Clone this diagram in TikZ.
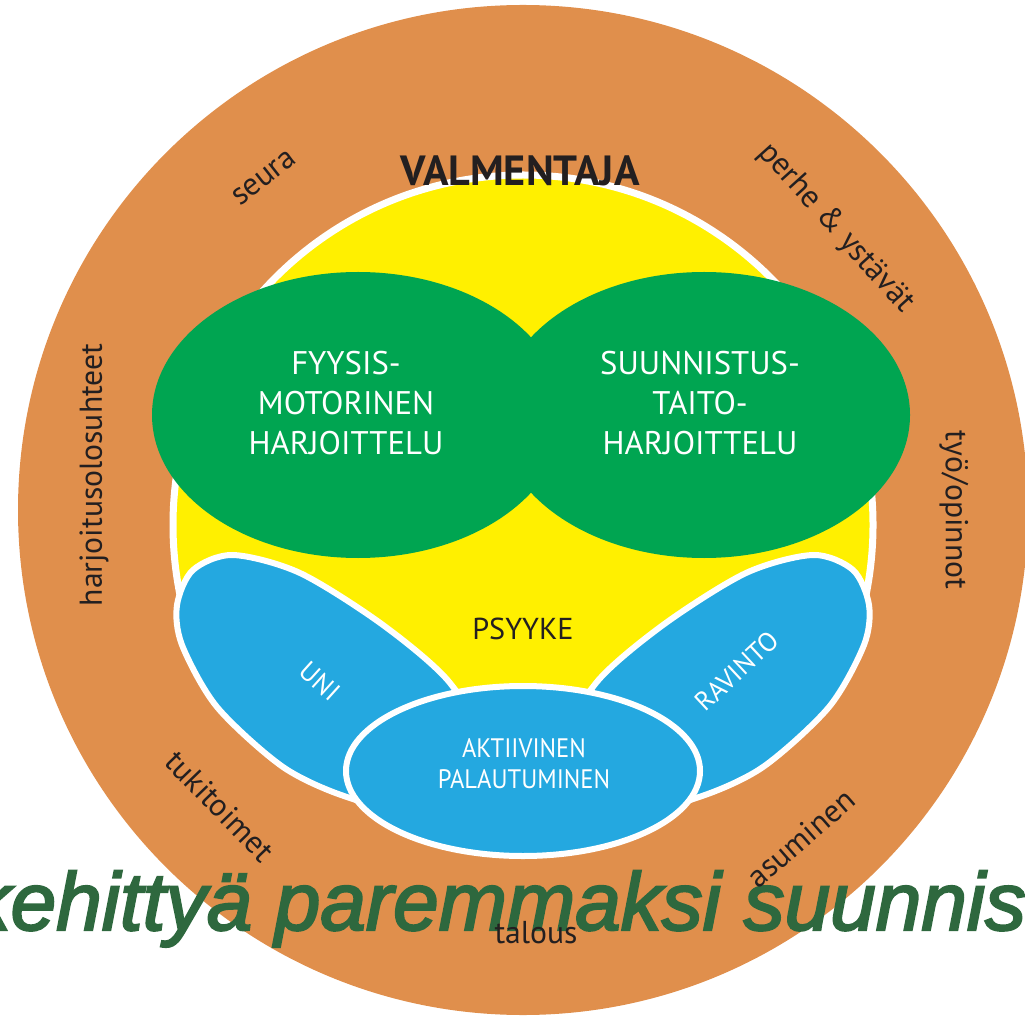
\documentclass[tikz,border=0pt]{standalone}
\usepackage{fontspec}
\usepackage{graphicx}
\setmainfont{PT Sans}
\newfontfamily\mottofont[FakeBold=2.6]{Liberation Sans Italic}
\usetikzlibrary{shapes,positioning}

\definecolor{ringorange}{RGB}{224,143,76}
\definecolor{psyyellow}{RGB}{255,240,0}
\definecolor{traingreen}{RGB}{0,165,81}
\definecolor{recblue}{RGB}{36,168,224}
\definecolor{labeltext}{RGB}{35,31,32}
\definecolor{mottogreen}{RGB}{46,104,62}

\newcommand\squeeze[2]{\scalebox{#1}[1]{\begin{tabular}{@{}c@{}}#2\end{tabular}}}

\tikzset{
  ring label/.style={text=labeltext,font=\fontsize{9}{10}\selectfont,inner sep=0pt},
  inner label/.style={text=white,align=center,font=\fontsize{9.3}{11.4}\selectfont,inner sep=0pt},
  small label/.style={text=white,align=center,font=\fontsize{7.6}{8.6}\selectfont,inner sep=0pt},
  lobe/.style={fill=recblue,draw=white,line width=0.06cm},
}

\begin{document}
\begin{tikzpicture}[x=0.01cm,y=-0.01cm]
\useasboundingbox (0,0) rectangle (1025,1016);
\clip (0,0) rectangle (1025,1016);
% outer ring and psyyke
\fill[ringorange] (523,510) circle [radius=505];
\begin{scope}
  \clip (0,0) rectangle (1025,720);
  \draw[fill=psyyellow,draw=white,line width=0.07cm] (523,525) circle [radius=350];
\end{scope}
% training
\fill[traingreen] (358,415) ellipse [x radius=206,y radius=143];
\fill[traingreen] (704,415) ellipse [x radius=206,y radius=143];
% recovery
\foreach \s in {1,-1}
  \draw[lobe,shift={(523-523*\s,0)},xscale=\s] plot[smooth cycle] coordinates
    {(347,797) (283,767) (217,707) (182,645) (177,605) (193,570) (233,555)
     (300,573) (383,625) (450,683) (478,745) (410,808)};
\draw[lobe] (523,771) ellipse [x radius=177,y radius=85];

\node[inner label] (fyysis) at (346,403) {FYYSIS-\\MOTORINEN\\HARJOITTELU};
\node[inner label] (taito) at (700,403) {SUUNNISTUS-\\TAITO-\\HARJOITTELU};
\node[text=labeltext,font=\fontsize{8.6}{10}\selectfont,inner sep=0pt] (psyyke) at (523,629) {PSYYKE};
\node[small label,rotate=-42] (uni) at (320,681) {UNI};
\node[small label,rotate=43] (ravinto) at (737,671) {RAVINTO};
\node[small label] (aktiivinen) at (524,767) {\squeeze{0.92}{AKTIIVINEN\\PALAUTUMINEN}};
\node[text=labeltext,font=\bfseries\fontsize{12}{13}\selectfont,inner sep=0pt] (valmentaja) at (520,171) {VALMENTAJA};

% stray caption
\node[text=mottogreen,anchor=base west,inner sep=0pt,font=\mottofont\fontsize{23.3}{26}\selectfont] (motto) at (-31,930) {kehittyä paremmaksi suunnis};

% surroundings
\node[ring label,rotate=38] (seura) at (264,178) {seura};
\node[ring label,rotate=-48] (perhe) at (836,228) {perhe \& ystävät};
\node[ring label,rotate=-90] (tyo) at (954,510) {työ/opinnot};
\node[ring label,rotate=41] (asuminen) at (801,838) {asuminen};
\node[ring label] (talous) at (536,933) {talous};
\node[ring label,rotate=-46] (tukitoimet) at (220,806) {tukitoimet};
\node[ring label,rotate=90] (olosuhteet) at (94,475) {harjoitusolosuhteet};
\end{tikzpicture}
\end{document}
